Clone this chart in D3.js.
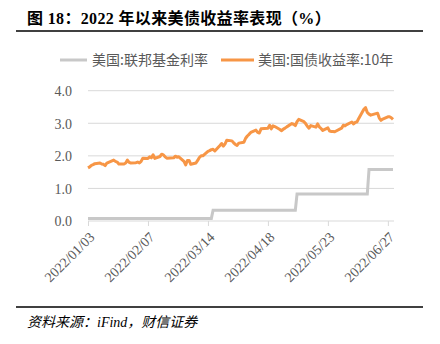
<!DOCTYPE html>
<html><head><meta charset="utf-8">
<script src="https://cdn.jsdelivr.net/npm/d3@7"></script>
<style>
html,body{margin:0;padding:0;background:#fff;}
svg{display:block;}
</style></head>
<body><svg id="c" width="440" height="344"></svg>
<script>
// ---- data ----
const title = "图 18：2022 年以来美债收益率表现（%）";
const source = "资料来源：iFind，财信证券";
const seriesNames = ["美国:联邦基金利率", "美国:国债收益率:10年"];
const tickDates = ["2022-01-03","2022-02-07","2022-03-14","2022-04-18","2022-05-23","2022-06-27"];
const yTicks = [0, 1, 2, 3, 4];

// US 10Y yield, trading days
const yieldDates = [
 "2022-01-03","2022-01-04","2022-01-05","2022-01-06","2022-01-07","2022-01-10","2022-01-11","2022-01-12","2022-01-13","2022-01-14",
 "2022-01-18","2022-01-19","2022-01-20","2022-01-21","2022-01-24","2022-01-25","2022-01-26","2022-01-27","2022-01-28","2022-01-31",
 "2022-02-01","2022-02-02","2022-02-03","2022-02-04","2022-02-07","2022-02-08","2022-02-09","2022-02-10","2022-02-11","2022-02-14",
 "2022-02-15","2022-02-16","2022-02-17","2022-02-18","2022-02-22","2022-02-23","2022-02-24","2022-02-25","2022-02-28",
 "2022-03-01","2022-03-02","2022-03-03","2022-03-04","2022-03-07","2022-03-08","2022-03-09","2022-03-10","2022-03-11","2022-03-14",
 "2022-03-15","2022-03-16","2022-03-17","2022-03-18","2022-03-21","2022-03-22","2022-03-23","2022-03-24","2022-03-25","2022-03-28",
 "2022-03-29","2022-03-30","2022-03-31",
 "2022-04-01","2022-04-04","2022-04-05","2022-04-06","2022-04-07","2022-04-08","2022-04-11","2022-04-12","2022-04-13","2022-04-14",
 "2022-04-18","2022-04-19","2022-04-20","2022-04-21","2022-04-22","2022-04-25","2022-04-26","2022-04-27","2022-04-28","2022-04-29",
 "2022-05-02","2022-05-03","2022-05-04","2022-05-05","2022-05-06","2022-05-09","2022-05-10","2022-05-11","2022-05-12","2022-05-13",
 "2022-05-16","2022-05-17","2022-05-18","2022-05-19","2022-05-20","2022-05-23","2022-05-24","2022-05-25","2022-05-26","2022-05-27","2022-05-31",
 "2022-06-01","2022-06-02","2022-06-03","2022-06-06","2022-06-07","2022-06-08","2022-06-09","2022-06-10","2022-06-13","2022-06-14",
 "2022-06-15","2022-06-16","2022-06-17","2022-06-21","2022-06-22","2022-06-23","2022-06-24","2022-06-27","2022-06-28","2022-06-29","2022-06-30"
];
const yieldValues = [
 1.63,1.66,1.71,1.73,1.76,1.78,1.75,1.74,1.70,1.78,
 1.87,1.83,1.81,1.75,1.75,1.78,1.87,1.80,1.78,1.79,
 1.81,1.78,1.83,1.93,1.92,1.97,1.94,2.03,1.92,1.98,
 2.05,2.03,1.97,1.93,1.94,1.99,1.96,1.97,1.83,
 1.72,1.86,1.86,1.74,1.78,1.86,1.95,2.00,2.00,2.14,
 2.16,2.19,2.20,2.15,2.32,2.38,2.30,2.37,2.48,2.46,
 2.40,2.35,2.32,
 2.39,2.42,2.54,2.61,2.66,2.72,2.79,2.72,2.70,2.83,
 2.85,2.94,2.83,2.92,2.90,2.81,2.77,2.82,2.85,2.89,
 2.99,2.97,2.93,3.05,3.12,3.05,2.99,2.91,2.85,2.93,
 2.88,2.98,2.89,2.84,2.78,2.86,2.76,2.75,2.75,2.74,2.85,
 2.94,2.92,2.96,3.04,2.98,3.03,3.04,3.15,3.43,3.48,
 3.33,3.28,3.25,3.31,3.16,3.09,3.13,3.20,3.20,3.17,3.12
];

// Fed funds effective rate (level changes)
const fedDates = ["2022-01-03","2022-03-16","2022-03-17","2022-05-04","2022-05-05","2022-06-15","2022-06-16","2022-06-30"];
const fedValues = [0.08, 0.08, 0.33, 0.33, 0.83, 0.83, 1.58, 1.58];

const colors = ["#c8c8c8", "#f79646"];

// ---- drawing ----
const parse = d3.timeParse("%Y-%m-%d");
const fmt = d3.timeFormat("%Y/%m/%d");
const svg = d3.select("#c");

const x = d3.scaleTime().domain([parse("2022-01-03"), parse("2022-06-30")]).range([88, 393]);
const y = d3.scaleLinear().domain([0, 4]).range([221, 90.7]);

// title
svg.append("text").attr("x", 27).attr("y", 24)
  .attr("font-family", "'Liberation Serif','Noto Sans CJK SC',serif")
  .attr("font-weight", "bold").attr("font-size", 16).attr("letter-spacing", 0.35).attr("fill", "#000")
  .text(title);
svg.append("line").attr("x1", 16).attr("x2", 423).attr("y1", 31).attr("y2", 31)
  .attr("stroke", "#000").attr("stroke-width", 1.5);

// legend
const leg = [{x1: 60, x2: 87, tx: 92}, {x1: 221, x2: 254, tx: 258}];
leg.forEach((l, i) => {
  svg.append("line").attr("x1", l.x1).attr("x2", l.x2).attr("y1", 60).attr("y2", 60)
    .attr("stroke", colors[i]).attr("stroke-width", 3);
  svg.append("text").attr("x", l.tx).attr("y", 65)
    .attr("font-family", "'Noto Sans CJK SC',sans-serif").attr("font-size", 14)
    .attr("fill", "#595959").text(seriesNames[i]);
});

// grid
svg.append("g").selectAll("line").data(yTicks.filter(d => d > 0)).join("line")
  .attr("x1", 88).attr("x2", 394).attr("y1", d => y(d)).attr("y2", d => y(d))
  .attr("stroke", "#d9d9d9").attr("stroke-width", 1);

// y axis labels
const yAxis = d3.axisLeft(y).tickValues(yTicks).tickFormat(d3.format(".1f")).tickSize(0).tickPadding(0);
const gy = svg.append("g").attr("transform", "translate(72,0)").call(yAxis);
gy.select(".domain").remove();
gy.selectAll("text").attr("font-family", "'Liberation Serif',serif").attr("font-size", 14)
  .attr("fill", "#595959").attr("dy", "0.35em");

// x axis
const xAxis = d3.axisBottom(x).tickValues(tickDates.map(parse)).tickFormat(fmt).tickSize(5).tickSizeOuter(0);
const gx = svg.append("g").attr("transform", "translate(0,221)").call(xAxis);
gx.select(".domain").attr("stroke", "#d9d9d9").attr("d", "M88,0H394");
gx.selectAll(".tick line").attr("stroke", "#d9d9d9");
gx.selectAll("text").attr("font-family", "'Liberation Serif',serif").attr("font-size", 14)
  .attr("fill", "#595959").attr("text-anchor", "end")
  .attr("transform", "translate(1,11) rotate(-45)").attr("dy", "0.6em").attr("y", 0).attr("x", 0);

// lines
const line = d3.line().x(d => x(d[0])).y(d => y(d[1]));
svg.append("path").datum(fedDates.map((d, i) => [parse(d), fedValues[i]]))
  .attr("d", line).attr("fill", "none").attr("stroke", colors[0]).attr("stroke-width", 3);
svg.append("path").datum(yieldDates.map((d, i) => [parse(d), yieldValues[i]]))
  .attr("d", line).attr("fill", "none").attr("stroke", colors[1]).attr("stroke-width", 3)
  .attr("stroke-linejoin", "round");

// bottom rule + source
svg.append("line").attr("x1", 16).attr("x2", 423).attr("y1", 307).attr("y2", 307)
  .attr("stroke", "#000").attr("stroke-width", 1.5);
svg.append("text").attr("x", 27).attr("y", 327)
  .attr("font-family", "'Liberation Serif','Noto Sans CJK SC',serif")
  .attr("font-style", "italic").attr("font-size", 14).attr("fill", "#000")
  .text(source);
</script></body></html>
